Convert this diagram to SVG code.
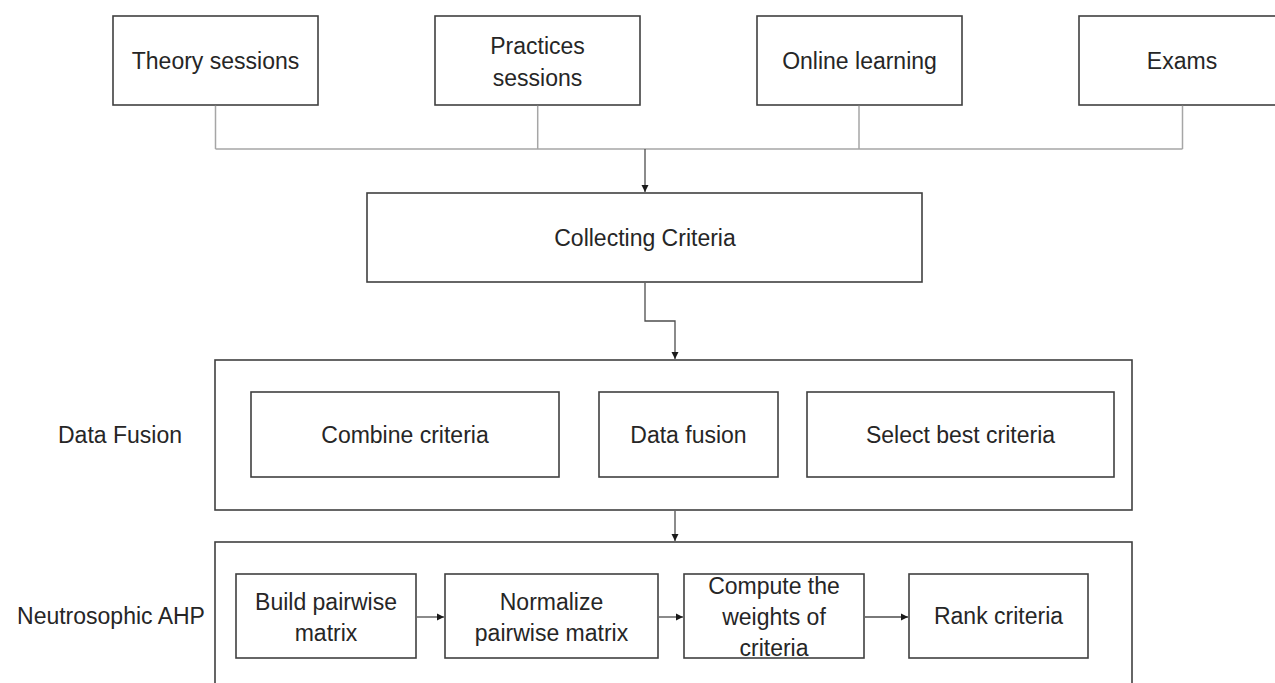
<svg xmlns="http://www.w3.org/2000/svg" width="1275" height="683" viewBox="0 0 1275 683">
<style>
.box{fill:#fff;stroke:#404040;stroke-width:1.6}
.t{font-family:"Liberation Sans",Arial,sans-serif;font-size:23px;fill:#262626;text-anchor:middle}
.lbl{font-family:"Liberation Sans",Arial,sans-serif;font-size:23px;fill:#262626;text-anchor:middle}
.conn{fill:none;stroke:#a6a6a6;stroke-width:1.5}
.arr{fill:none;stroke:#4d4d4d;stroke-width:1.3}
</style>
<defs>
<marker id="ah" markerWidth="8" markerHeight="8" refX="7" refY="4" orient="auto" markerUnits="userSpaceOnUse">
<path d="M0,0.5 L7,4 L0,7.5 Z" fill="#1a1a1a"/>
</marker>
</defs>
<rect width="1275" height="683" fill="#fff"/>
<g id="theory"><rect class="box" x="113" y="16" width="205" height="89"/><text class="t" x="215.5" y="69">Theory sessions</text></g>
<g id="practices"><rect class="box" x="435" y="16" width="205" height="89"/><text class="t" x="537.5" y="54">Practices</text><text class="t" x="537.5" y="86">sessions</text></g>
<g id="online"><rect class="box" x="757" y="16" width="205" height="89"/><text class="t" x="859.5" y="69">Online learning</text></g>
<g id="exams"><rect class="box" x="1079" y="16" width="206" height="89"/><text class="t" x="1182" y="69">Exams</text></g>
<g id="collecting"><rect class="box" x="367" y="193" width="555" height="89"/><text class="t" x="645" y="246">Collecting Criteria</text></g>
<g id="datafusion-group">
<text class="lbl" x="120" y="443">Data Fusion</text>
<rect class="box" x="215" y="360" width="917" height="150"/>
</g>
<g id="combine"><rect class="box" x="251" y="392" width="308" height="85"/><text class="t" x="405" y="443">Combine criteria</text></g>
<g id="datafusion"><rect class="box" x="599" y="392" width="179" height="85"/><text class="t" x="688.5" y="443">Data fusion</text></g>
<g id="select"><rect class="box" x="807" y="392" width="307" height="85"/><text class="t" x="960.5" y="443">Select best criteria</text></g>
<g id="ahp-group">
<text class="lbl" x="111" y="624">Neutrosophic AHP</text>
<rect class="box" x="215" y="542" width="917" height="160"/>
</g>
<g id="build"><rect class="box" x="236" y="574" width="180" height="84"/><text class="t" x="326" y="610">Build pairwise</text><text class="t" x="326" y="641">matrix</text></g>
<g id="normalize"><rect class="box" x="445" y="574" width="213" height="84"/><text class="t" x="551.5" y="610">Normalize</text><text class="t" x="551.5" y="641">pairwise matrix</text></g>
<g id="compute"><rect class="box" x="684" y="574" width="180" height="84"/><text class="t" x="774" y="594">Compute the</text><text class="t" x="774" y="625">weights of</text><text class="t" x="774" y="656">criteria</text></g>
<g id="rank"><rect class="box" x="909" y="574" width="179" height="84"/><text class="t" x="998.5" y="624">Rank criteria</text></g>
<g id="connectors">
<path class="conn" d="M215.5 105.8 V149 M537.7 105.8 V149 M859 105.8 V149 M1182.5 105.8 V149 M215.5 149 H1182.5"/>
<path class="arr" d="M645 149 V192" marker-end="url(#ah)"/>
<path class="arr" d="M645 283 V321 H675 V359" marker-end="url(#ah)"/>
<path class="arr" d="M675 511 V541" marker-end="url(#ah)"/>
<path class="arr" d="M417 617 H444" marker-end="url(#ah)"/>
<path class="arr" d="M659 617 H683" marker-end="url(#ah)"/>
<path class="arr" d="M865 617 H908" marker-end="url(#ah)"/>
</g>
</svg>
